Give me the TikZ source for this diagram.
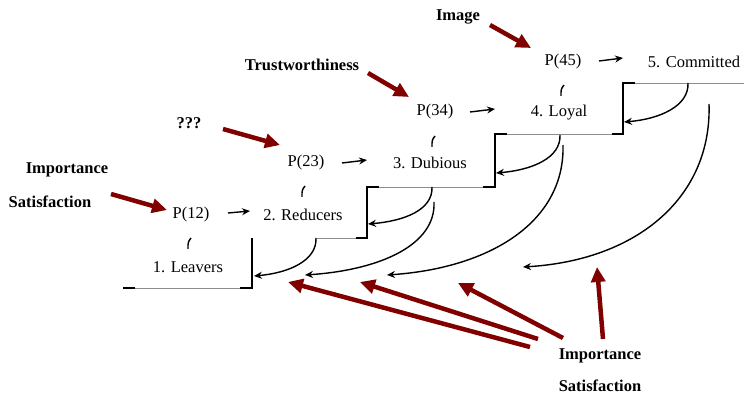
\documentclass[tikz,border=0pt]{standalone}
\usepackage{fontspec}
\setmainfont{Liberation Serif}
\usetikzlibrary{arrows.meta}
\definecolor{dred}{RGB}{128,0,0}
\begin{document}
\begin{tikzpicture}[x=1pt,y=-1pt,
  lbl/.style={font=\fontsize{16.5}{19}\selectfont, inner sep=0pt},
  blbl/.style={font=\fontsize{16.5}{19}\selectfont\bfseries, inner sep=0pt},
  blk/.style={line width=1.4pt,-{Stealth[length=8pt,width=7pt]}},
  redarr/.style={dred,line width=4.5pt,-{Triangle[length=15pt,width=14pt]}},
  tick/.style={line width=1.4pt},
  grayline/.style={black!45,line width=0.9pt},
  blkline/.style={black,line width=1.3pt}]
\useasboundingbox (0,0) rectangle (744,395);

% stage labels
\node[lbl] (L1) at (188,267) {1. Leavers};
\node[lbl] (L2) at (303,215) {2. Reducers};
\node[lbl] (L3) at (430,163) {3. Dubious};
\node[lbl] (L4) at (559,113) {4. Loyal};
\node[lbl] (L5) at (694,62) {5. Committed};
% probabilities
\node[lbl] (P12) at (191,215) {P(12)};
\node[lbl] (P23) at (306,163) {P(23)};
\node[lbl] (P34) at (435,112) {P(34)};
\node[lbl] (P45) at (563,62) {P(45)};
% bold labels
\node[blbl] (img) at (458,17) {Image};
\node[blbl] (trust) at (302,65) {Trustworthiness};
\node[blbl] (qqq) at (189,123) {???};
\node[blbl] (imp1) at (67,170) {Importance};
\node[blbl] (sat1) at (50,202) {Satisfaction};
\node[blbl] (imp2) at (600,356) {Importance};
\node[blbl] (sat2) at (600,386) {Satisfaction};

% staircase
\draw[grayline] (123,288) -- (252,288);
\draw[grayline] (316,238) -- (367,238);
\draw[grayline] (367,187) -- (495,187);
\draw[grayline] (495,134) -- (623,134);
\draw[grayline] (623,83) -- (744,83);
\draw[blkline] (123,288) -- (135,288);
\draw[blkline] (240,288) -- (252,288) -- (252,238);
\draw[blkline] (356,238) -- (367,238) -- (367,187) -- (379,187);
\draw[blkline] (483,187) -- (495,187) -- (495,134) -- (507,134);
\draw[blkline] (612,134) -- (623,134) -- (623,83) -- (635,83);

% short arrows P -> stage
\coordinate (a12s) at (228,213); \coordinate (a12e) at (250,211);
\coordinate (a23s) at (342,163); \coordinate (a23e) at (367,160);
\coordinate (a34s) at (470,112); \coordinate (a34e) at (495,109);
\coordinate (a45s) at (599,61); \coordinate (a45e) at (623,58);
\draw[blk] (a12s) -- (a12e);
\draw[blk] (a23s) -- (a23e);
\draw[blk] (a34s) -- (a34e);
\draw[blk] (a45s) -- (a45e);

% ticks
\draw[tick] (191,238) .. controls (188,242) .. (188,249);
\draw[tick] (305,186) .. controls (302,190) .. (302,197);
\draw[tick] (435,136) .. controls (432,140) .. (432,147);
\draw[tick] (564,85) .. controls (561,89) .. (561,96);

% return curves
\coordinate (c1s) at (316,238); \coordinate (c1e) at (254,276);
\coordinate (c2s) at (432,187); \coordinate (c2e) at (368,224);
\coordinate (c3s) at (560,135); \coordinate (c3e) at (496,173);
\coordinate (c4s) at (688,83);  \coordinate (c4e) at (624,122);
\draw[blk] (c1s) .. controls (317,261) and (288,273) .. (c1e);
\draw[blk] (c2s) .. controls (433,210) and (404,221) .. (c2e);
\draw[blk] (c3s) .. controls (561,158) and (532,170) .. (c3e);
\draw[blk] (c4s) .. controls (689,106) and (660,119) .. (c4e);
\coordinate (d1s) at (434,202); \coordinate (d1e) at (305,275);
\coordinate (d2s) at (563,145); \coordinate (d2e) at (387,275);
\coordinate (d3s) at (709,104); \coordinate (d3e) at (523,267);
\draw[blk] (d1s) .. controls (436,245) and (380,270) .. (d1e);
\draw[blk] (d2s) .. controls (565,222) and (490,268) .. (d2e);
\draw[blk] (d3s) .. controls (712,195) and (640,260) .. (d3e);

% red arrows
\coordinate (r1s) at (490,25);  \coordinate (r1e) at (531,48);
\coordinate (r2s) at (368,73);  \coordinate (r2e) at (409,97);
\coordinate (r3s) at (223,129); \coordinate (r3e) at (280,145);
\coordinate (r4s) at (111,194); \coordinate (r4e) at (167,210);
\coordinate (r5s) at (530,347); \coordinate (r5e) at (288,282);
\coordinate (r6s) at (538,339); \coordinate (r6e) at (360,282);
\coordinate (r7s) at (563,338); \coordinate (r7e) at (458,283);
\coordinate (r8s) at (603,339); \coordinate (r8e) at (597,267);
\foreach \i in {1,...,8} \draw[redarr] (r\i s) -- (r\i e);
\end{tikzpicture}
\end{document}
